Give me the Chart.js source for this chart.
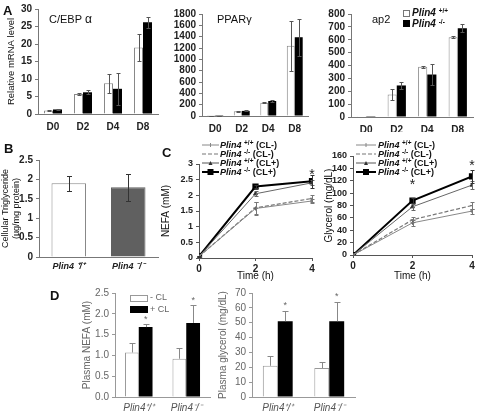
<!DOCTYPE html>
<html>
<head>
<meta charset="utf-8">
<script src="https://cdn.jsdelivr.net/npm/chart.js@4.4.0/dist/chart.umd.min.js"></script>
<style>
body { margin: 0; background: #fff; width: 478px; height: 413px; position: relative; overflow: hidden; font-family: "Liberation Sans", Arial, sans-serif; color: #111; }
canvas { position: absolute; }
.t { position: absolute; white-space: nowrap; line-height: 1; }
.letter { font-weight: bold; font-size: 13px; }
.leg { font-size: 9px; font-weight: bold; }
.leg i { font-style: italic; }
.leg sup { font-size: 6.5px; vertical-align: 3px; line-height: 0; }
.sw { position: absolute; }
</style>
</head>
<body>
<canvas id="a1" width="162" height="132" style="left:0;top:0"></canvas>
<canvas id="a2" width="150" height="132" style="left:160px;top:0"></canvas>
<canvas id="a3" width="168" height="132" style="left:310px;top:0"></canvas>
<canvas id="b1" width="162" height="137" style="left:0;top:140px"></canvas>
<canvas id="c1" width="158" height="145" style="left:160px;top:140px"></canvas>
<canvas id="c2" width="163" height="145" style="left:315px;top:140px"></canvas>
<canvas id="d1" width="155" height="133" style="left:60px;top:280px"></canvas>
<canvas id="d2" width="145" height="133" style="left:215px;top:280px"></canvas>

<div class="t letter" style="left:3px;top:4px">A</div>
<div class="t letter" style="left:4px;top:142px">B</div>
<div class="t letter" style="left:162px;top:146px">C</div>
<div class="t letter" style="left:50px;top:289px">D</div>

<div class="t" style="left:49px;top:13px;font-size:11px">C/EBP <span style="font-size:12px">α</span></div>
<div class="t" style="left:217px;top:14px;font-size:11px">PPARγ</div>
<div class="t" style="left:372px;top:14px;font-size:11px">ap2</div>

<div class="sw" style="left:403px;top:10px;width:5px;height:5px;border:1px solid #777;background:#fff"></div>
<div class="t leg" style="left:412px;top:8px;font-size:10px"><i>Plin4</i> <sup>+/+</sup></div>
<div class="sw" style="left:403px;top:20px;width:7px;height:7px;background:#000"></div>
<div class="t leg" style="left:412px;top:19px;font-size:10px"><i>Plin4</i> <sup>-/-</sup></div>

<div id="legC1"></div>
<div id="legC2"></div>

<div class="sw" style="left:130px;top:295px;width:16px;height:5px;border:1px solid #999;background:#fff"></div>
<div class="t" style="left:150px;top:293px;font-size:9px;color:#666">- CL</div>
<div class="sw" style="left:130px;top:306px;width:18px;height:7px;background:#000"></div>
<div class="t" style="left:150px;top:305px;font-size:9px;color:#666">+ CL</div>

<script>
"use strict";

// Panel A: relative mRNA level by day of differentiation
const days = ["D0", "D2", "D4", "D8"];
const cebpWT = [1.0, 5.7, 8.8, 19.0];
const cebpWTErr = [0.2, 0.3, 2.7, 3.9];
const cebpKO = [1.3, 6.2, 7.2, 26.2];
const cebpKOErr = [0.2, 0.6, 4.6, 1.6];
const ppargWT = [2, 85, 235, 1240];
const ppargWTErr = [1, 8, 8, 440];
const ppargKO = [2, 90, 265, 1390];
const ppargKOErr = [1, 8, 12, 330];
const ap2WT = [1, 175, 390, 620];
const ap2WTErr = [0, 45, 8, 8];
const ap2KO = [1, 245, 330, 690];
const ap2KOErr = [0, 30, 80, 30];

// Panel B: cellular triglyceride
const genotypes = ["Plin4 ⁺/⁺", "Plin4 ⁻/⁻"];
const tgValues = [1.9, 1.8];
const tgErr = [0.2, 0.35];

// Panel C: lipolysis time course
const hours = [0, 2, 4];
const nefaWTminus = [0.05, 1.58, 1.82];
const nefaWTminusErr = [0.02, 0.2, 0.05];
const nefaKOminus = [0.05, 1.6, 1.9];
const nefaKOminusErr = [0.02, 0.2, 0.1];
const nefaWTplus = [0.05, 2.05, 2.4];
const nefaWTplusErr = [0.02, 0.08, 0.08];
const nefaKOplus = [0.05, 2.28, 2.45];
const nefaKOplusErr = [0.02, 0.05, 0.2];
const nefaStars = [null, null, 2.76];
const glyWTminus = [0, 52, 71];
const glyWTminusErr = [0, 5, 4];
const glyKOminus = [0, 57, 80];
const glyKOminusErr = [0, 4, 6];
const glyWTplus = [0, 78, 113];
const glyWTplusErr = [0, 5, 7];
const glyKOplus = [0, 88, 127];
const glyKOplusErr = [0, 4, 10];
const glyStars = [null, 118, 150];

// Panel D: plasma NEFA / glycerol
const plasmaGroups = ["Plin4⁺/⁺", "Plin4⁻/⁻"];
const pNefaMinus = [1.07, 0.92];
const pNefaMinusErr = [0.22, 0.25];
const pNefaPlus = [1.68, 1.78];
const pNefaPlusErr = [0.07, 0.42];
const pNefaStars = [1.92, 2.38];
const pGlyMinus = [21, 19.5];
const pGlyMinusErr = [6.5, 4];
const pGlyPlus = [51, 51];
const pGlyPlusErr = [7, 13];
const pGlyStars = [63, 69];

const FONT = "'Liberation Sans', Arial, sans-serif";

const errorBars = {
    id: "errorBars",
    afterDatasetsDraw(chart, args, opts) {
        const ctx = chart.ctx;
        const y = chart.scales.y;
        chart.data.datasets.forEach((ds, i) => {
            if (!ds.errors) return;
            const meta = chart.getDatasetMeta(i);
            ctx.save();
            ctx.strokeStyle = ds.errorColor || opts.color || "#444";
            ctx.lineWidth = 1;
            meta.data.forEach((el, j) => {
                const e = ds.errors[j];
                if (!e) return;
                const raw = ds.data[j];
                const v = typeof raw === "object" ? raw.y : raw;
                const cap = opts.cap || 2;
                const top = Math.round(y.getPixelForValue(v + e)) + 0.5;
                const bot = opts.upperOnly ? el.y : Math.round(y.getPixelForValue(v - e)) + 0.5;
                const x = Math.round(el.x) + 0.5;
                ctx.beginPath();
                ctx.moveTo(x, top);
                ctx.lineTo(x, bot);
                ctx.moveTo(x - cap, top);
                ctx.lineTo(x + cap, top);
                if (!opts.upperOnly) {
                    ctx.moveTo(x - cap, bot);
                    ctx.lineTo(x + cap, bot);
                }
                ctx.stroke();
            });
            ctx.restore();
        });
    }
};

const starMarks = {
    id: "starMarks",
    afterDatasetsDraw(chart, args, opts) {
        const ctx = chart.ctx;
        const y = chart.scales.y;
        chart.data.datasets.forEach((ds, i) => {
            if (!ds.stars) return;
            const meta = chart.getDatasetMeta(i);
            const size = opts.size || 12;
            ctx.save();
            ctx.fillStyle = opts.color || "#111";
            ctx.font = size + "px " + FONT;
            ctx.textAlign = "center";
            ctx.textBaseline = "middle";
            meta.data.forEach((el, j) => {
                const v = ds.stars[j];
                if (v == null) return;
                ctx.fillText("*", el.x, y.getPixelForValue(v) + size * 0.25);
            });
            ctx.restore();
        });
    }
};

Chart.register(errorBars, starMarks);
Chart.defaults.font.family = FONT;
Chart.defaults.font.size = 10;
Chart.defaults.color = "#111";
Chart.defaults.animation = false;
Chart.defaults.responsive = false;
Chart.defaults.devicePixelRatio = 1;
Chart.defaults.plugins.legend.display = false;
Chart.defaults.plugins.tooltip.enabled = false;

const plain = (v) => String(v);
const tickFont = { size: 10, weight: "bold" };
const smallTickFont = { size: 9, weight: "bold" };

function yAxis(min, max, step, width, extra) {
    return Object.assign({
        min: min,
        max: max,
        ticks: { stepSize: step, padding: 3, autoSkip: false, callback: plain, font: tickFont, color: "#222" },
        grid: { drawOnChartArea: false, drawTicks: true, tickLength: 3, color: "#777" },
        border: { color: "#777" },
        afterFit: (s) => { s.width = width; }
    }, extra || {});
}

function catAxis(height, extra) {
    return Object.assign({
        grid: { display: false, drawTicks: false },
        border: { color: "#777" },
        ticks: { padding: 7, font: tickFont, color: "#222" },
        afterFit: (s) => { s.height = height; }
    }, extra || {});
}

function mrnaChart(id, wt, wtErr, ko, koErr, max, step, yW, xH, pad, yTitle) {
    const y = yAxis(0, max, step, yW);
    if (yTitle) {
        y.title = { display: true, text: yTitle, font: { size: 9.5 }, padding: { top: 6, bottom: 0 } };
    }
    return new Chart(document.getElementById(id), {
        type: "bar",
        data: {
            labels: days,
            datasets: [
                { data: wt, errors: wtErr, backgroundColor: "#fff", borderColor: "#888", borderWidth: 1 },
                { data: ko, errors: koErr, backgroundColor: "#000", borderWidth: 0 }
            ]
        },
        options: {
            layout: { padding: pad },
            datasets: { bar: { categoryPercentage: 0.6, barPercentage: 1 } },
            plugins: { errorBars: { cap: 2, color: "#555" } },
            scales: { x: catAxis(xH), y: y }
        }
    });
}

mrnaChart("a1", cebpWT, cebpWTErr, cebpKO, cebpKOErr, 30, 5, 38, 18, { top: 5, right: 4 }, "Relative mRNA level");
mrnaChart("a2", ppargWT, ppargWTErr, ppargKO, ppargKOErr, 1800, 200, 42, 16, { top: 14, right: 2 });
mrnaChart("a3", ap2WT, ap2WTErr, ap2KO, ap2KOErr, 800, 100, 41, 15, { top: 14, right: 5 });

new Chart(document.getElementById("b1"), {
    type: "bar",
    data: {
        labels: genotypes,
        datasets: [{ data: tgValues, errors: tgErr, backgroundColor: ["#fff", "#606060"], borderColor: ["#888", "#606060"], borderWidth: 1 }]
    },
    options: {
        layout: { padding: { top: 20, right: 4 } },
        datasets: { bar: { categoryPercentage: 0.58, barPercentage: 1 } },
        plugins: { errorBars: { cap: 2.5, color: "#333" } },
        scales: {
            x: catAxis(20, { ticks: { padding: 4, color: "#222", font: { size: 9, style: "italic", weight: "bold" } } }),
            y: yAxis(0, 2.5, 0.5, 39, {
                title: { display: true, text: ["Cellular Triglyceride", "(µg/mg protein)"], font: { size: 9, lineHeight: 1.2 }, padding: { top: 0, bottom: 0 } }
            })
        }
    }
});

function series(arr) {
    return hours.map((h, i) => ({ x: h, y: arr[i] }));
}

function lineSets(wtMinus, wtMinusErr, koMinus, koMinusErr, wtPlus, wtPlusErr, koPlus, koPlusErr, stars) {
    return [
        { data: series(wtMinus), errors: wtMinusErr, borderColor: "#888", borderWidth: 1, pointStyle: "cross", pointRadius: 2, pointBorderColor: "#666", errorColor: "#777" },
        { data: series(koMinus), errors: koMinusErr, borderColor: "#777", borderWidth: 1.2, borderDash: [4, 2], pointStyle: "line", pointRadius: 2, pointBorderColor: "#777", errorColor: "#777" },
        { data: series(wtPlus), errors: wtPlusErr, borderColor: "#666", borderWidth: 1, pointStyle: "triangle", pointRadius: 2.2, pointBackgroundColor: "#333", pointBorderColor: "#333", errorColor: "#666" },
        { data: series(koPlus), errors: koPlusErr, stars: stars, borderColor: "#000", borderWidth: 2, pointStyle: "rect", pointRadius: 3, pointBackgroundColor: "#000", pointBorderColor: "#000", errorColor: "#333" }
    ];
}

function timeChart(id, sets, max, step, yTitle, yW, xH, pad, titlePad) {
    return new Chart(document.getElementById(id), {
        type: "line",
        data: { datasets: sets },
        options: {
            layout: { padding: pad },
            plugins: { errorBars: { cap: 2, color: "#555" }, starMarks: { size: 14, color: "#222" } },
            scales: {
                x: {
                    type: "linear", min: 0, max: 4,
                    ticks: { stepSize: 2, padding: 2, font: tickFont, color: "#222" },
                    grid: { drawOnChartArea: false, drawTicks: true, tickLength: 3, color: "#555" },
                    border: { color: "#555" },
                    title: { display: true, text: "Time (h)", font: { size: 10 }, padding: { top: 3, bottom: 3 } },
                    afterFit: (s) => { s.height = xH; }
                },
                y: yAxis(0, max, step, yW, {
                    ticks: { stepSize: step, padding: 3, autoSkip: false, callback: plain, font: smallTickFont, color: "#222" },
                    grid: { drawOnChartArea: false, drawTicks: true, tickLength: 3, color: "#555" },
                    border: { color: "#555" },
                    title: { display: true, text: yTitle, font: { size: 10 }, padding: { top: titlePad, bottom: 0 } }
                })
            }
        }
    });
}

timeChart("c1", lineSets(nefaWTminus, nefaWTminusErr, nefaKOminus, nefaKOminusErr, nefaWTplus, nefaWTplusErr, nefaKOplus, nefaKOplusErr, nefaStars),
    3, 0.5, "NEFA (mM)", 39, 27, { top: 24, right: 6 }, 0);
timeChart("c2", lineSets(glyWTminus, glyWTminusErr, glyKOminus, glyKOminusErr, glyWTplus, glyWTplusErr, glyKOplus, glyKOplusErr, glyStars),
    160, 20, "Glycerol (mg/dL)", 38, 30, { top: 16, right: 5 }, 8);

function plasmaChart(id, minus, minusErr, plus, plusErr, stars, max, step, yTitle, fmt, yW, pad, titlePad) {
    return new Chart(document.getElementById(id), {
        type: "bar",
        data: {
            labels: plasmaGroups,
            datasets: [
                { data: minus, errors: minusErr, backgroundColor: "#fff", borderColor: "#999", borderWidth: 1 },
                { data: plus, errors: plusErr, stars: stars, backgroundColor: "#000", borderWidth: 0 }
            ]
        },
        options: {
            layout: { padding: pad },
            datasets: { bar: { categoryPercentage: 0.58, barPercentage: 1 } },
            plugins: { errorBars: { cap: 3, upperOnly: true, color: "#888" }, starMarks: { size: 9, color: "#666" } },
            scales: {
                x: catAxis(16, {
                    border: { color: "#999" },
                    ticks: { padding: 5, color: "#555", font: { size: 10, style: "italic" } }
                }),
                y: yAxis(0, max, step, yW, {
                    ticks: { stepSize: step, padding: 3, autoSkip: false, color: "#666", callback: fmt },
                    grid: { drawOnChartArea: false, drawTicks: true, tickLength: 3, color: "#999" },
                    border: { color: "#999" },
                    title: { display: true, text: yTitle, color: "#666", font: { size: 10 }, padding: { top: titlePad, bottom: 0 } }
                })
            }
        }
    });
}

plasmaChart("d1", pNefaMinus, pNefaMinusErr, pNefaPlus, pNefaPlusErr, pNefaStars, 2.5, 0.5, "Plasma NEFA (mM)",
    (v) => Number(v).toFixed(1), 55, { top: 13, right: 5 }, 21);
plasmaChart("d2", pGlyMinus, pGlyMinusErr, pGlyPlus, pGlyPlusErr, pGlyStars, 70, 10, "Plasma glycerol (mg/dL)",
    plain, 37, { top: 13, right: 5 }, 2);

// legends for the time-course panels
const legendRows = [
    { label: "+/+", cl: "(CL-)", color: "#888", width: 1, dash: "", marker: "cross" },
    { label: "-/-", cl: "(CL-)", color: "#777", width: 1.2, dash: "4,2", marker: "none" },
    { label: "+/+", cl: "(CL+)", color: "#555", width: 1, dash: "", marker: "tri" },
    { label: "-/-", cl: "(CL+)", color: "#000", width: 2, dash: "", marker: "rect" }
];
const legendTops = [140, 149, 158, 167];

function buildLegend(hostId, lineLeft, lineWidth, textLeft) {
    const host = document.getElementById(hostId);
    legendRows.forEach((r, i) => {
        const top = legendTops[i];
        const mid = lineWidth / 2;
        let mk = "";
        if (r.marker === "cross") mk = `<line x1="${mid}" y1="3" x2="${mid}" y2="7" stroke="${r.color}"/>`;
        if (r.marker === "tri") mk = `<polygon points="${mid - 2},7 ${mid + 2},7 ${mid},3" fill="#333"/>`;
        if (r.marker === "rect") mk = `<rect x="${mid - 3}" y="2" width="6" height="6" fill="#000"/>`;
        const svg = `<svg class="sw" style="left:${lineLeft}px;top:${top}px" width="${lineWidth}" height="10">` +
            `<line x1="0" y1="5" x2="${lineWidth}" y2="5" stroke="${r.color}" stroke-width="${r.width}" stroke-dasharray="${r.dash}"/>${mk}</svg>`;
        const txt = `<div class="t leg" style="left:${textLeft}px;top:${top + 1}px"><i>Plin4</i> <sup>${r.label}</sup> ${r.cl}</div>`;
        host.insertAdjacentHTML("beforeend", svg + txt);
    });
}

buildLegend("legC1", 202, 17, 220);
buildLegend("legC2", 356, 20, 378);
</script>
</body>
</html>
